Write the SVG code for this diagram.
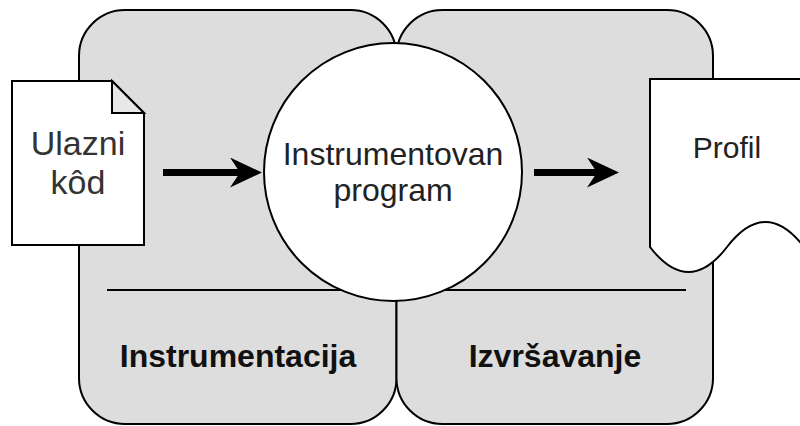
<svg xmlns="http://www.w3.org/2000/svg" width="800" height="426" viewBox="0 0 800 426">
  <defs>
    <style>
      .lane { fill: #dddddd; stroke: #000; stroke-width: 2; }
      .shape { fill: #ffffff; stroke: #000; stroke-width: 2; stroke-linejoin: miter; }
      .sep { stroke: #000; stroke-width: 2; fill: none; }
      .arrow { stroke: #000; stroke-width: 7; fill: none; }
      .t { font-family: "Liberation Sans", Arial, sans-serif; text-anchor: middle; fill: #222; }
      .lbl { font-size: 32px; }
      .bold { font-family: "Liberation Sans", Arial, sans-serif; text-anchor: middle; font-weight: bold; font-size: 32px; fill: #111; }
    </style>
    <marker id="head" markerUnits="userSpaceOnUse" markerWidth="32" markerHeight="30" viewBox="0 0 32 30" refX="15" refY="15" orient="auto">
      <path d="M0,0 L32,15 L0,30 L10,15 Z" fill="#000"/>
    </marker>
  </defs>

  <g id="lane-instrumentacija">
    <rect class="lane" x="79" y="10" width="317.5" height="414" rx="46" ry="46"/>
    <text class="bold" x="238" y="367">Instrumentacija</text>
  </g>
  <g id="lane-izvrsavanje">
    <rect class="lane" x="396.5" y="10" width="316.5" height="414" rx="46" ry="46"/>
    <text class="bold" x="555" y="367">Izvršavanje</text>
  </g>

  <g id="separator">
    <line class="sep" x1="107" y1="290" x2="686" y2="290"/>
  </g>

  <g id="instrumentovan-program">
    <circle class="shape" cx="393" cy="172" r="129"/>
    <text class="t lbl" x="393" y="165">Instrumentovan</text>
    <text class="t lbl" x="393" y="201">program</text>
  </g>

  <g id="ulazni-kod">
    <path class="shape" d="M12,81 H112 L144,113 V245 H12 Z"/>
    <path class="shape" d="M112,81 V113 H144 Z" style="fill:#e8e8e8"/>
    <text class="t" x="78" y="155" style="font-size:34px;fill:#333">Ulazni</text>
    <text class="t" x="78" y="194" style="font-size:34px;fill:#333">kôd</text>
  </g>

  <g id="profil">
    <path class="shape" d="M650,79 H804 V247 Q765.5,197 727,247 Q688.5,297 650,247 Z"/>
    <text class="t" x="727" y="158" style="font-size:30px">Profil</text>
  </g>

  <g id="connectors">
    <line class="arrow" x1="163" y1="172.5" x2="245" y2="172.5" marker-end="url(#head)"/>
    <line class="arrow" x1="534" y1="172.5" x2="602" y2="172.5" marker-end="url(#head)"/>
  </g>
</svg>
